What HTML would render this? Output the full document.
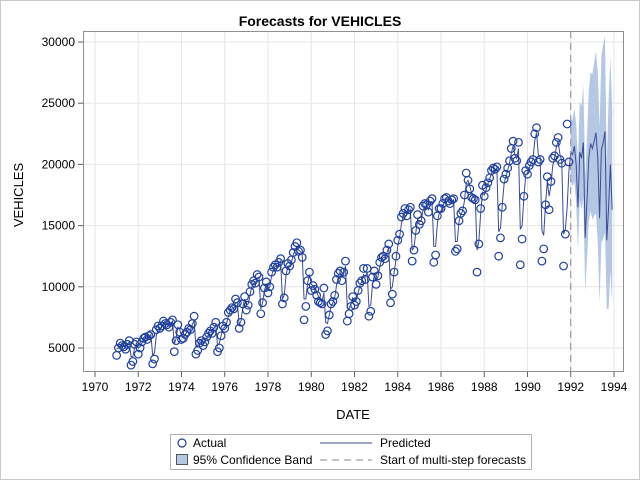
<!DOCTYPE html>
<html><head><meta charset="utf-8"><style>
body{margin:0;background:#fff}
svg text{font-family:"Liberation Sans",sans-serif}
</style></head><body>
<svg id="c" width="640" height="480" xmlns="http://www.w3.org/2000/svg">
<rect x="0.5" y="0.5" width="639" height="479" fill="#fff" stroke="#c8c8c8"/>
<text x="320" y="26" text-anchor="middle" font-size="14" font-weight="bold">Forecasts for VEHICLES</text>
<g id="grid"></g><g id="band"></g><g id="lines"></g><g id="pts"></g><g id="axes"></g>
<text x="0" y="0" transform="translate(23,195) rotate(-90)" font-size="13" text-anchor="middle">VEHICLES</text>
<text x="353" y="419" font-size="13" text-anchor="middle">DATE</text>
<g>
<rect x="170.5" y="434.5" width="361" height="35" fill="#fff" stroke="#b0b0b0"/>
<g><circle cx="182" cy="443" r="4" fill="none" stroke="#1f3f9f" stroke-width="1.2"/><text x="193" y="447" font-size="12">Actual</text></g>
<g><line x1="320" y1="443" x2="372" y2="443" stroke="#3b4b96"/><text x="380" y="447" font-size="12">Predicted</text></g>
<g><rect x="176.5" y="454.5" width="11" height="10" fill="#b4c8e4" stroke="#555"/><text x="193" y="464" font-size="12">95% Confidence Band</text></g>
<g><line x1="320" y1="460" x2="372" y2="460" stroke="#888" stroke-dasharray="7,5"/><text x="380" y="464" font-size="12">Start of multi-step forecasts</text></g>
</g>
</svg>
<script>
const actual=[
4400,5000,5400,5200,5100,4900,5300,5600,3600,3900,5300,5500,
4500,5000,5500,5800,5900,5700,6000,6100,3700,4100,6500,6800,
6600,6800,7200,7000,6900,6700,7100,7300,4700,5600,6900,6300,
5700,5800,6100,6300,6600,6500,7000,7600,4500,4800,5400,5600,
5200,5500,5900,6200,6400,6200,6700,7100,4700,5000,6000,6800,
6600,7100,7900,8100,8300,8200,9000,8700,6600,7100,8600,9200,
8100,8500,9600,10200,10500,10300,11000,10800,7800,8700,9900,10400,
9500,10000,11200,11600,11800,11600,12000,12300,8600,9100,11300,11900,
11700,12200,12800,13300,13600,12900,13000,12400,7300,8400,10500,11200,
9700,10100,9800,9300,8800,8700,8600,9900,6100,6400,7700,8600,
8800,9300,10600,11100,11300,10500,11200,12100,7200,7800,8400,9200,
8500,8800,9700,10300,10500,11500,10600,11500,7600,8000,10800,11300,
10200,10900,12000,12400,12500,12300,13000,13500,8700,9400,11200,12500,
13800,14300,15700,16000,16400,15800,16300,16500,12100,13000,14600,15900,
15100,15400,16600,16800,16700,16100,17000,17200,12000,12600,15800,16400,
16400,16800,17200,17300,17000,16800,17100,17200,12900,13100,15400,16000,
16200,17500,19300,18700,18000,17300,17200,17100,11200,13500,16400,18300,
17400,18100,18500,18900,19500,19700,19600,19800,12500,14000,16500,18800,
19200,19700,20300,21300,21900,20500,20300,21800,11800,13900,17400,19500,
19200,19900,20200,20400,22500,23000,20200,20400,12100,13100,16700,19000,
16300,18600,20500,20700,21800,22200,20400,20100,11700,14300,23300,20200];
const predicted=[
4900,5000,5200,5300,5200,5100,5300,5500,4300,4300,5000,5400,
5000,5100,5400,5700,5800,5800,5900,6100,4400,4600,6000,6500,
6500,6800,7000,7100,6900,6800,7000,7200,5300,5800,6700,6500,
6000,5900,6100,6300,6500,6500,6900,7300,5100,5200,5600,5700,
5400,5500,5800,6100,6300,6300,6600,6900,5200,5400,6000,6600,
6700,7000,7600,8000,8200,8200,8700,8700,6900,7200,8300,9000,
8500,8600,9300,10000,10300,10300,10700,10800,8200,8700,9700,10200,
9800,10000,10900,11400,11700,11600,11900,12100,9000,9300,10900,11700,
11700,12000,12600,13000,13300,13000,12900,12600,9000,9000,10300,11000,
10200,10100,10000,9600,9200,8900,8800,9500,7100,7000,7700,8400,
8700,9100,10100,10800,11100,10800,11000,11700,8300,8200,8600,9100,
8800,8900,9500,10100,10400,11000,10800,11200,8400,8500,10200,10900,
10500,10800,11600,12200,12400,12400,12800,13200,9800,10000,11200,12200,
13300,14000,15100,15800,16100,15900,16100,16300,13000,13200,14400,15500,
15300,15400,16200,16600,16600,16300,16700,17000,13300,13300,15200,16000,
16200,16600,17000,17200,17000,16900,17000,17100,13700,13700,15300,15900,
16200,17000,18500,18700,18200,17600,17300,17200,13000,13700,16000,17700,
17500,17900,18400,18800,19300,19500,19500,19700,14500,14800,16700,18400,
19000,19500,20100,20900,21500,20800,20500,21300,14700,15000,17300,19100,
19300,19700,20100,20400,21900,22600,20800,20600,14600,14200,16800,18600,
17400,18300,19900,20500,21400,21900,20800,20300,14300,14700,16500,19500];
const forecast=[21000,20800,21500,20000,16500,21000,20500,21800,14000,17000,20500,21700,
21300,21900,22600,20500,15600,21200,21800,22700,13800,16500,20000,16300];
const lower=[18600,18200,18600,16900,13000,17100,16300,17300,9600,12200,15300,16200,
15500,15800,16000,13600,8600,13600,13900,14400,8200,8200,11300,8600];
const upper=[23600,23700,24600,23300,20200,25100,24800,26500,18900,22200,26000,27500,
27400,28300,29300,27600,23000,28900,29800,30500,20000,25300,28800,24500];
const yTicks=[5000,10000,15000,20000,25000,30000];
const xTicks=[1970,1972,1974,1976,1978,1980,1982,1984,1986,1988,1990,1992,1994];
const startYear=1971, forecastStart=1992;

const NS="http://www.w3.org/2000/svg";
const L=83,R=624,T=31,B=372;
const X=t=>95+(t-1970)*21.625;
const Y=v=>348-(v-5000)*306/25000;
const mk=(tag,attrs,parent)=>{const e=document.createElementNS(NS,tag);for(const k in attrs)e.setAttribute(k,attrs[k]);document.getElementById(parent).appendChild(e);return e;};
const tAt=i=>startYear+i/12;
yTicks.forEach(v=>{const g=mk('line',{x1:L,x2:R,y1:Y(v),y2:Y(v),stroke:'#e6e6e6'},'grid');

});
xTicks.forEach(v=>{const g=mk('line',{x1:X(v),x2:X(v),y1:T,y2:B,stroke:'#e6e6e6'},'grid');

});
let up=[],lo=[];
forecast.forEach((v,i)=>{const t=forecastStart+i/12;up.push(X(t)+','+Y(upper[i]));lo.unshift(X(t)+','+Y(lower[i]));});
const band=mk('polygon',{points:up.concat(lo).join(' '),fill:'#b4c8e4'},'band');


const pp=predicted.map((v,i)=>X(tAt(i))+','+Y(v)).concat(forecast.map((v,i)=>X(forecastStart+i/12)+','+Y(v)));
const pl=mk('polyline',{points:pp.join(' '),fill:'none',stroke:'#3b4b96','stroke-width':1},'lines');


const dl=mk('line',{x1:X(forecastStart),x2:X(forecastStart),y1:T,y2:B,stroke:'#888','stroke-dasharray':'7,5'},'lines');


actual.forEach((v,i)=>{const c=mk('circle',{cx:X(tAt(i)),cy:Y(v),r:3.8,fill:'none',stroke:'#1f3f9f','stroke-width':1.2},'pts');

});
const fr=mk('rect',{x:L+0.5,y:T+0.5,width:R-L-1,height:B-T-1,fill:'none',stroke:'#909090'},'axes');


yTicks.forEach(v=>{mk('line',{x1:L-5,x2:L,y1:Y(v),y2:Y(v),stroke:'#606060'},'axes');
const t=mk('text',{x:L-8,y:Y(v)+4,'text-anchor':'end','font-size':12},'axes');t.textContent=v;

});
xTicks.forEach(v=>{mk('line',{x1:X(v),x2:X(v),y1:B,y2:B+5,stroke:'#606060'},'axes');
const t=mk('text',{x:X(v),y:B+19,'text-anchor':'middle','font-size':12},'axes');t.textContent=v;

});
</script>
</body></html>
